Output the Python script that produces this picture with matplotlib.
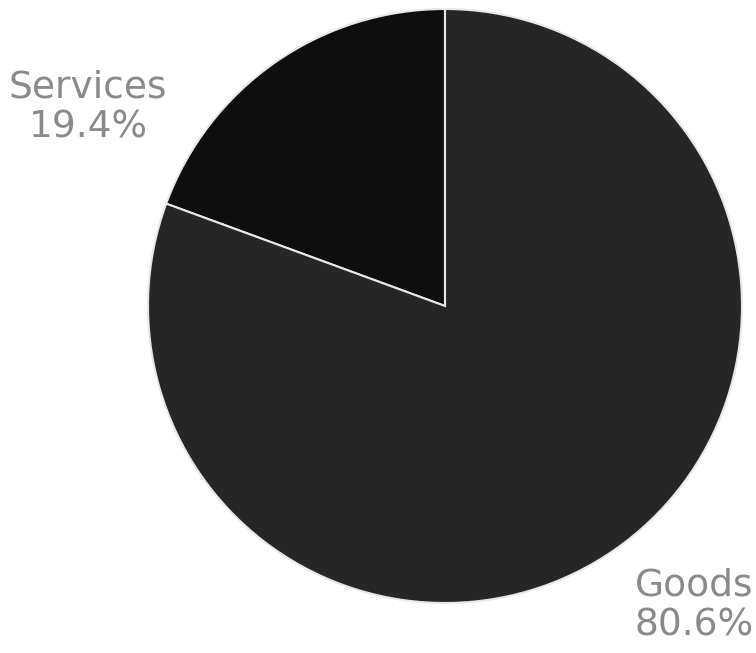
import matplotlib
matplotlib.use("Agg")
import matplotlib.pyplot as plt

categories = ["Services", "Goods"]
shares = [19.4, 80.6]
colors = ["#0e0e0e", "#262626"]

W, H = 756, 653
fig = plt.figure(figsize=(W / 100, H / 100), dpi=100)
ax = fig.add_axes([0, 0, 1, 1])

ax.pie(shares, colors=colors, startangle=90, counterclock=True,
       center=(445, 347), radius=297,
       wedgeprops=dict(edgecolor="#e8e8e8", linewidth=1.5))
ax.set_xlim(0, W)
ax.set_ylim(0, H)
ax.set_aspect("equal")
ax.axis("off")

label_pos = {"Services": (88, 566, 526), "Goods": (694, 68, 27)}
for cat, val in zip(categories, shares):
    x, y1, y2 = label_pos[cat]
    ax.text(x, y1, cat, ha="center", va="center", fontsize=27,
            color="#8a8a8a", family="DejaVu Sans")
    ax.text(x, y2, f"{val}%", ha="center", va="center", fontsize=27,
            color="#8a8a8a", family="DejaVu Sans")

fig.savefig("out.png", dpi=100)
